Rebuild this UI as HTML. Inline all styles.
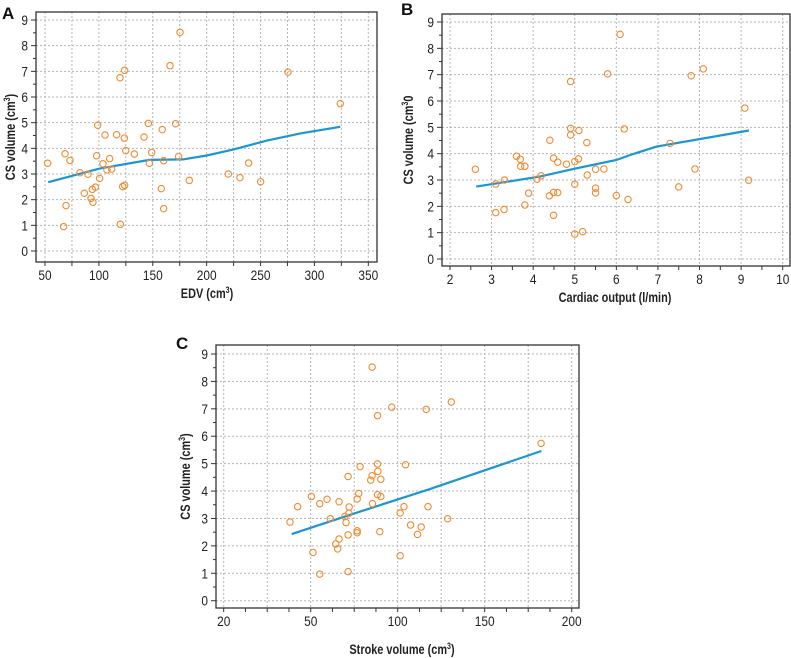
<!DOCTYPE html>
<html><head><meta charset="utf-8"><style>
body{margin:0;background:#fff;width:791px;height:658px;overflow:hidden}
svg{display:block;font-family:"Liberation Sans Narrow","Liberation Sans",sans-serif}
</style></head><body>
<svg id="c" width="791" height="658" viewBox="0 0 791 658"></svg>
<script>
// Panel A: EDV vs CS volume
const aX=[52.5,68.6,73.2,69.5,67.3,82.5,89.9,86.5,92.7,93.9,96.7,94.5,97.9,98.9,100.7,103.8,105.7,107.5,110,111.9,116.5,119.6,119.9,122.1,123.6,123.9,123.9,124.9,132.9,141.9,145.9,146.8,149,157.9,158.8,160.1,160.1,166,171.2,174,175.3,183.9,220.1,230.9,239,250.1,275.5,324];
const aY=[3.42,3.79,3.53,1.77,0.95,3.05,2.99,2.25,2.05,2.40,2.49,1.90,3.71,4.90,2.83,3.40,4.52,3.16,3.6,3.19,4.53,6.75,1.04,2.51,4.40,7.04,2.56,3.91,3.78,4.44,4.97,3.42,3.84,2.43,4.73,3.52,1.65,7.22,4.96,3.68,8.52,2.75,3.0,2.86,3.43,2.70,6.97,5.74];
const aFitX=[53,101,147,178,200,225,256,287,324];
const aFitY=[2.68,3.22,3.55,3.57,3.72,3.96,4.3,4.58,4.84];
const aTicks=[50,100,150,200,250,300,350];
// Panel B: cardiac output vs CS volume
const bX=[2.61,3.10,3.31,3.10,3.30,3.60,3.69,3.70,3.80,3.89,3.80,4.09,4.19,4.40,4.39,4.49,4.49,4.59,4.59,4.49,4.80,4.90,4.90,4.90,5.0,5.0,5.0,5.09,5.10,5.19,5.29,5.30,5.50,5.50,5.50,5.70,5.79,6.0,6.09,6.19,6.28,7.29,7.50,7.80,7.89,8.09,9.09,9.18];
const bY=[3.41,2.85,3.00,1.76,1.88,3.90,3.79,3.52,3.52,2.50,2.05,3.03,3.16,4.51,2.40,3.83,2.53,3.68,2.52,1.66,3.60,6.74,4.96,4.71,3.70,2.84,0.95,3.80,4.88,1.04,4.42,3.19,3.41,2.69,2.51,3.42,7.03,2.41,8.53,4.94,2.26,4.39,2.74,6.96,3.42,7.22,5.73,2.99];
const bFitX=[2.63,4.16,4.97,6.0,6.33,6.97,9.19];
const bFitY=[2.75,3.13,3.42,3.76,3.95,4.27,4.88];
const bTicks=[2,3,4,5,6,7,8,9,10];
// Panel C: stroke volume vs CS volume
const cX=[38.1,42.5,50.4,55.2,51.3,55.2,59.4,61.3,66.3,64.4,65.5,66.3,69.6,70.3,71.5,71.5,71.5,72.1,71.9,76.7,76.7,76.7,77.6,78.4,84.5,85.3,85.3,85.5,88.4,88.4,88.6,88.4,90.3,90.3,89.7,96.6,101.4,101.4,103.6,104.5,107.4,111.4,113.5,116.4,117.4,128.7,130.8,182.4];
const cY=[2.87,3.43,3.80,3.54,1.76,0.97,3.70,2.99,3.61,2.07,1.89,2.25,3.07,2.85,4.53,2.40,1.06,3.42,3.19,3.71,2.55,2.48,3.91,4.89,4.40,4.56,8.52,3.54,6.75,4.99,4.72,3.87,4.43,3.80,2.52,7.06,3.20,1.64,3.43,4.96,2.76,2.42,2.69,6.98,3.43,2.99,7.25,5.74];
const cFitX=[39.1,78.4,117.8,182.6];
const cFitY=[2.43,3.25,4.06,5.46];
const cTicks=[0,50,100,150,200];
const cTickLabels=["20","50","100","150","200"];
const yTicks=[0,1,2,3,4,5,6,7,8,9];

const NS="http://www.w3.org/2000/svg";
const svg=document.getElementById('c');
function mk(tag,attrs,parent){const e=document.createElementNS(NS,tag);for(const k in attrs)e.setAttribute(k,attrs[k]);(parent||svg).appendChild(e);return e;}

function panel(p){
  const g=mk('g',{});
  
  
  const xs=v=>p.x0+(v-p.xv0)*p.xk, ys=v=>p.y0-v*p.yk;
  for(let v=p.gMin;v<=p.gMax+1e-9;v+=p.gStep){
    const l=mk('line',{x1:xs(v),x2:xs(v),y1:p.top,y2:p.bot,stroke:'#b5b5b5','stroke-dasharray':'2,2','stroke-width':1},g);
    
  }
  for(const v of yTicks){
    const l=mk('line',{x1:p.left,x2:p.right,y1:ys(v),y2:ys(v),stroke:'#b5b5b5','stroke-dasharray':'2,2','stroke-width':1},g);
    
  }
  const fr=mk('rect',{x:p.left,y:p.top,width:p.right-p.left,height:p.bot-p.top,fill:'none',stroke:'#333','stroke-width':1.3},g);
  
  for(let v=0;v<=9;v+=0.5){
    const major=Number.isInteger(v);
    mk('line',{x1:p.left-(major?5:3),x2:p.left,y1:ys(v),y2:ys(v),stroke:'#333'},g);
  }
  for(const v of yTicks){
    const t=mk('text',{x:0,y:0,transform:`translate(${p.left-8},${ys(v)+5}) scale(0.85,1)`,'text-anchor':'end','font-size':14,fill:'#222'},g);
    t.textContent=v;
  }
  for(let v=p.tMin;v<=p.tMax+1e-9;v+=p.tStep){
    mk('line',{x1:xs(v),x2:xs(v),y1:p.bot,y2:p.bot+4,stroke:'#333'},g);
  }
  p.xt.forEach((v,i)=>{
    const t=mk('text',{x:0,y:0,transform:`translate(${xs(v)},${p.bot+18}) scale(0.85,1)`,'text-anchor':'middle','font-size':14,fill:'#222'},g);
    t.textContent=p.xl?p.xl[i]:v;
  });
  const d=p.fx.map((v,i)=>(i?'L':'M')+xs(v).toFixed(1)+','+ys(p.fy[i]).toFixed(1)).join(' ');
  const fl=mk('path',{d:d,fill:'none',stroke:'#1a96d4','stroke-width':2.2},g);
  
  p.px.forEach((v,i)=>{
    const c=mk('circle',{cx:xs(v),cy:ys(p.py[i]),r:3.2,fill:'none',stroke:'#f08a30','stroke-width':1.1},g);
    
  });
  const yt=mk('text',{x:0,y:0,transform:`translate(${p.ytx},${(p.top+p.bot)/2}) rotate(-90) scale(0.78,1)`,'text-anchor':'middle','font-size':14,'font-weight':'bold',fill:'#222'},g);
  yt.innerHTML=p.ytitle;
  const xt=mk('text',{x:0,y:0,transform:`translate(${p.xtx},${p.xty}) scale(0.78,1)`,'text-anchor':'middle','font-size':14,'font-weight':'bold',fill:'#222'},g);
  xt.innerHTML=p.xtitle;
  const pl=mk('text',{x:p.lx,y:p.ly,'font-size':17,'font-weight':'bold',fill:'#111'},g);
  pl.textContent=p.letter;
}

panel({name:'panel-a-edv',letter:'A',lx:2,ly:19,left:36,right:377,top:12,bot:262,x0:45,xv0:50,xk:323.3/300,y0:251,yk:231/9,
 gMin:50,gMax:350,gStep:25,tMin:50,tMax:350,tStep:25,xt:aTicks,px:aX,py:aY,fx:aFitX,fy:aFitY,
 ytx:15,ytitle:'CS volume (cm<tspan dy="-5" font-size="9">3</tspan><tspan dy="5">)</tspan>',xtx:207,xty:298,xtitle:'EDV (cm<tspan dy="-5" font-size="9">3</tspan><tspan dy="5">)</tspan>'});
panel({name:'panel-b-cardiac-output',letter:'B',lx:401,ly:15,left:442,right:790,top:14,bot:266,x0:450,xv0:2,xk:332.7/8,y0:259,yk:237/9,
 gMin:2,gMax:10,gStep:1,tMin:2,tMax:10,tStep:0.5,xt:bTicks,px:bX,py:bY,fx:bFitX,fy:bFitY,
 ytx:413,ytitle:'CS volume (cm<tspan dy="-5" font-size="9">3</tspan><tspan dy="5">0</tspan>',xtx:615,xty:302,xtitle:'Cardiac output (l/min)'});
panel({name:'panel-c-stroke-volume',letter:'C',lx:176,ly:349,left:216,right:579,top:345,bot:608,x0:310.7,xv0:50,xk:87/50,y0:600.7,yk:246.7/9,
 gMin:0,gMax:200,gStep:25,tMin:0,tMax:200,tStep:12.5,xt:cTicks,xl:cTickLabels,px:cX,py:cY,fx:cFitX,fy:cFitY,
 ytx:190,ytitle:'CS volume (cm<tspan dy="-5" font-size="9">3</tspan><tspan dy="5">)</tspan>',xtx:402,xty:654,xtitle:'Stroke volume (cm<tspan dy="-5" font-size="9">3</tspan><tspan dy="5">)</tspan>'});
</script>
</body></html>
